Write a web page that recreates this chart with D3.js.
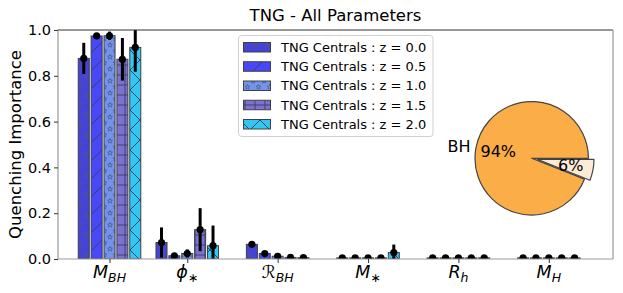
<!DOCTYPE html>
<html><head><meta charset="utf-8">
<script src="https://cdn.jsdelivr.net/npm/d3@7/dist/d3.min.js"></script>
<style>
html,body{margin:0;padding:0;background:#fff;}
svg{display:block;font-family:"DejaVu Sans",sans-serif;}
</style></head>
<body><svg id="chart" width="623" height="293"></svg>
<script>
// ---------- data ----------
const categories = ["M_BH", "phi_*", "R_BH", "M_*", "R_h", "M_H"];
const categoryX = [0.14, 1, 2, 3, 4, 5];
const seriesLabels = ["TNG Centrals : z = 0.0", "TNG Centrals : z = 0.5", "TNG Centrals : z = 1.0", "TNG Centrals : z = 1.5", "TNG Centrals : z = 2.0"];
const z00 = [0.876, 0.072, 0.064, 0.005, 0.005, 0.005];
const z05 = [0.974, 0.014, 0.024, 0.005, 0.005, 0.005];
const z10 = [0.975, 0.024, 0.012, 0.005, 0.005, 0.005];
const z15 = [0.872, 0.128, 0.007, 0.005, 0.005, 0.005];
const z20 = [0.924, 0.058, 0.006, 0.028, 0.005, 0.005];
const z00err = [0.068, 0.066, 0.005, 0.002, 0.002, 0.002];
const z05err = [0.005, 0.004, 0.005, 0.002, 0.002, 0.002];
const z10err = [0.018, 0.018, 0.010, 0.002, 0.002, 0.002];
const z15err = [0.093, 0.094, 0.004, 0.002, 0.002, 0.002];
const z20err = [0.106, 0.088, 0.003, 0.035, 0.002, 0.002];
const yTicks = [0.0, 0.2, 0.4, 0.6, 0.8, 1.0];
const pieLabels = ["BH", ""];
const pieValues = [94, 6];

const seriesValues = [z00, z05, z10, z15, z20];
const seriesErrors = [z00err, z05err, z10err, z15err, z20err];

// ---------- styles ----------
const colors = ["#4343DA", "#4848F8", "#7494EC", "#7C72D2", "#33C6F2"];
const hatchIds = ["h-o", "h-slash", "h-star", "h-plus", "h-x"];
const edge = "#404040";

const svg = d3.select("#chart");
const L = 58, R = 613, T = 30, B = 259;

const x = d3.scaleLinear().domain([-0.43, 5.71]).range([L, R]);
const y = d3.scaleLinear().domain([0, 1]).range([B, T]);
const stepU = 0.1425, barU = 0.122;

// ---------- patterns ----------
const defs = svg.append("defs");
function starPath(cx, cy, r) {
  let p = "";
  for (let i = 0; i < 10; i++) {
    const a = -Math.PI / 2 + i * Math.PI / 5;
    const rr = i % 2 === 0 ? r : r * 0.42;
    p += (i === 0 ? "M" : "L") + (cx + rr * Math.cos(a)).toFixed(2) + "," + (cy + rr * Math.sin(a)).toFixed(2);
  }
  return p + "Z";
}
function makePattern(id, color, w, h, draw) {
  const p = defs.append("pattern").attr("id", id).attr("patternUnits", "userSpaceOnUse")
    .attr("width", w).attr("height", h);
  p.append("rect").attr("width", w).attr("height", h).attr("fill", color);
  draw(p);
}
const hs = "#3a3a60", hw = 0.9;
makePattern(hatchIds[0], colors[0], 11, 20, p => {
  [[3, 5], [8.5, 15]].forEach(([cx, cy]) =>
    p.append("circle").attr("cx", cx).attr("cy", cy).attr("r", 2.1)
      .attr("fill", "none").attr("stroke", "#55557a").attr("stroke-width", hw));
});
makePattern(hatchIds[1], colors[1], 18, 18, p => {
  p.append("path").attr("d", "M-2,20L20,-2M-2,2L2,-2M16,20L20,16")
    .attr("stroke", hs).attr("stroke-width", hw);
});
makePattern(hatchIds[2], colors[2], 11, 12, p => {
  [[5.5, 3], [0, 9], [11, 9]].forEach(([cx, cy]) =>
    p.append("path").attr("d", starPath(cx, cy, 2.6))
      .attr("fill", "none").attr("stroke", "#4a5a90").attr("stroke-width", 0.8));
});
makePattern(hatchIds[3], colors[3], 10, 10, p => {
  p.append("path").attr("d", "M0,5H10M5,0V10")
    .attr("stroke", hs).attr("stroke-width", hw);
});
makePattern(hatchIds[4], colors[4], 20, 20, p => {
  p.append("path").attr("d", "M-1,-1L21,21M-1,21L21,-1")
    .attr("stroke", "#2a3a55").attr("stroke-width", hw);
});

svg.append("clipPath").attr("id", "plotclip").append("rect")
  .attr("x", L).attr("y", T).attr("width", R - L).attr("height", B - T);

// ---------- title ----------
svg.append("text").attr("x", (L + R) / 2).attr("y", 21).attr("text-anchor", "middle")
  .attr("font-size", 16.5).attr("fill", "#000").text("TNG - All Parameters");

// ---------- bars ----------
const plot = svg.append("g").attr("clip-path", "url(#plotclip)");
seriesValues.forEach((vals, s) => {
  const g = plot.append("g");
  g.selectAll("rect").data(vals).join("rect")
    .attr("x", (d, i) => x(categoryX[i] + (s - 2) * stepU - barU / 2))
    .attr("width", x(barU) - x(0))
    .attr("y", d => y(d))
    .attr("height", d => y(0) - y(d))
    .attr("fill", `url(#${hatchIds[s]})`)
    .attr("stroke", edge).attr("stroke-width", 1);
});
seriesValues.forEach((vals, s) => {
  const g = plot.append("g");
  const cx = i => x(categoryX[i] + (s - 2) * stepU);
  g.selectAll("line").data(vals).join("line")
    .attr("x1", (d, i) => cx(i)).attr("x2", (d, i) => cx(i))
    .attr("y1", (d, i) => y(d - seriesErrors[s][i]))
    .attr("y2", (d, i) => y(d + seriesErrors[s][i]))
    .attr("stroke", "#000").attr("stroke-width", 3);
  g.selectAll("circle").data(vals).join("circle")
    .attr("cx", (d, i) => cx(i)).attr("cy", d => y(d)).attr("r", 3.6).attr("fill", "#000");
});

// ---------- spines ----------
svg.append("line").attr("x1", L).attr("x2", R).attr("y1", T).attr("y2", T).attr("stroke", "#333").attr("stroke-width", 1);
svg.append("line").attr("x1", L).attr("x2", L).attr("y1", T).attr("y2", B).attr("stroke", "#999").attr("stroke-width", 1.2);
svg.append("line").attr("x1", R).attr("x2", R).attr("y1", T).attr("y2", B).attr("stroke", "#999").attr("stroke-width", 1.2);
svg.append("line").attr("x1", L).attr("x2", R).attr("y1", B).attr("y2", B).attr("stroke", "#999").attr("stroke-width", 1.2);

// ---------- y axis ----------
const yAxis = svg.append("g").attr("transform", `translate(${L},0)`)
  .call(d3.axisLeft(y).tickValues(yTicks).tickFormat(d3.format(".1f")).tickSize(4).tickPadding(3));
yAxis.select(".domain").remove();
yAxis.selectAll("line").attr("stroke", "#333");
yAxis.selectAll("text").attr("font-size", 14.5).attr("font-family", "DejaVu Sans").attr("fill", "#000");

svg.append("text").attr("transform", `translate(21,${(T + B) / 2}) rotate(-90)`)
  .attr("text-anchor", "middle").attr("font-size", 16.5).attr("fill", "#000").text("Quenching Importance");

// ---------- x axis ----------
const xg = svg.append("g").attr("transform", `translate(0,${B})`);
const xAxis = xg.call(d3.axisBottom(x).tickValues(categoryX).tickSize(4).tickFormat(""));
xAxis.select(".domain").remove();
xAxis.selectAll("line").attr("stroke", "#333");
const labelParts = {
  "M_BH": ["M", "BH", "italic"],
  "phi_*": ["\u03D5", "\u2217", "italic"],
  "R_BH": ["\u211B", "BH", "normal"],
  "M_*": ["M", "\u2217", "italic"],
  "R_h": ["R", "h", "italic"],
  "M_H": ["M", "H", "italic"]
};
categories.forEach((c, i) => {
  const [base, sub, style] = labelParts[c];
  const t = svg.append("text").attr("x", x(categoryX[i])).attr("y", 278)
    .attr("text-anchor", "middle").attr("fill", "#000");
  t.append("tspan").attr("font-size", 17.5).attr("font-style", style).text(base);
  t.append("tspan").attr("font-size", 12.5).attr("font-style", sub === "\u2217" ? "normal" : "italic")
    .attr("dy", 4).text(sub);
});

// ---------- legend ----------
const lg = svg.append("g");
lg.append("rect").attr("x", 238.5).attr("y", 35.5).attr("width", 194.5).attr("height", 101)
  .attr("rx", 3).attr("fill", "#fff").attr("fill-opacity", 0.85).attr("stroke", "#d0d0d0");
seriesLabels.forEach((lab, s) => {
  const cy = 47 + s * 19.25;
  lg.append("rect").attr("x", 243.5).attr("y", cy - 4.5).attr("width", 27).attr("height", 9.5)
    .attr("fill", `url(#${hatchIds[s]})`).attr("stroke", edge).attr("stroke-width", 1);
  lg.append("text").attr("x", 281).attr("y", cy + 4.8).attr("font-size", 13).attr("fill", "#000")
    .text(lab);
});

// ---------- pie ----------
const pcx = 531.7, pcy = 158.3, pr = 56.7;
const pieColors = ["#FBAD48", "#FCEBD6"];
const explode = [0, 0.1];
const pie = d3.pie().sort(null).startAngle(Math.PI / 2).endAngle(Math.PI / 2 - 2 * Math.PI);
const arcs = pie(pieValues);
const arc = d3.arc().innerRadius(0).outerRadius(pr);
const pg = svg.append("g").attr("transform", `translate(${pcx},${pcy})`);
const total = d3.sum(pieValues);
arcs.forEach((a, i) => {
  const mid = (a.startAngle + a.endAngle) / 2;
  const off = explode[i] * pr;
  const dx = Math.sin(mid) * off, dy = -Math.cos(mid) * off;
  const s0 = Math.min(a.startAngle, a.endAngle), s1 = Math.max(a.startAngle, a.endAngle);
  pg.append("path").attr("transform", `translate(${dx},${dy})`)
    .attr("d", arc({ startAngle: s0, endAngle: s1 }))
    .attr("fill", pieColors[i]).attr("stroke", "#444").attr("stroke-width", 1.2)
    .attr("stroke-linejoin", "round");
  const pct = Math.round(100 * a.value / total) + "%";
  pg.append("text").attr("x", dx + Math.sin(mid) * 0.6 * pr).attr("y", dy - Math.cos(mid) * 0.6 * pr)
    .attr("text-anchor", "middle").attr("dominant-baseline", "central")
    .attr("font-size", 16).attr("fill", "#000").text(pct);
  if (pieLabels[i]) {
    const lx = dx + Math.sin(mid) * 1.1 * pr, ly = dy - Math.cos(mid) * 1.1 * pr;
    pg.append("text").attr("x", lx).attr("y", ly)
      .attr("text-anchor", lx < 0 ? "end" : "start").attr("dominant-baseline", "central")
      .attr("font-size", 16).attr("fill", "#000").text(pieLabels[i]);
  }
});
</script></body></html>
